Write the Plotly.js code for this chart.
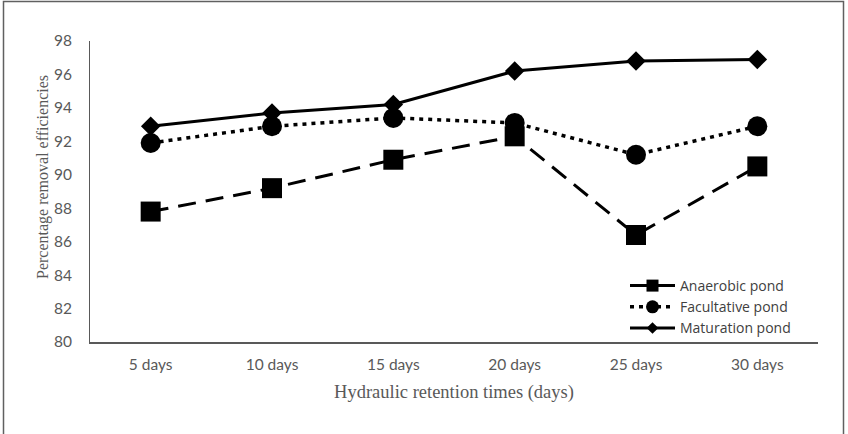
<!DOCTYPE html>
<html>
<head>
<meta charset="utf-8">
<script src="https://cdn.plot.ly/plotly-3.0.1.min.js"></script>
<style>
  html, body { margin: 0; padding: 0; background: #fff; }
  #chart { width: 848px; height: 434px; }
</style>
</head>
<body>
<div id="chart"></div>
<script>
// Hydraulic retention times (x categories)
const retentionTimes = ['5 days', '10 days', '15 days', '20 days', '25 days', '30 days'];

// Percentage removal efficiencies per pond
const anaerobicPond   = [87.8, 89.2, 90.9, 92.3, 86.4, 90.5];
const facultativePond = [91.9, 92.9, 93.4, 93.1, 91.2, 92.9];
const maturationPond  = [92.9, 93.7, 94.2, 96.2, 96.8, 96.9];

const yTicks = [80, 82, 84, 86, 88, 90, 92, 94, 96, 98];

const W = 848, H = 434;
const margin = { l: 90, r: 30, t: 41, b: 92 };
const plotW = W - margin.l - margin.r;
const plotH = H - margin.t - margin.b;
// pixel -> paper helpers for the frame and the side title
const px = x => (x - margin.l) / plotW;
const py = y => (H - margin.b - y) / plotH;

const tickFont = { family: 'Lato, "Open Sans", sans-serif', size: 15.5, color: '#595959' };
const serifFont = { family: '"Liberation Serif", "Times New Roman", serif', color: '#595959' };

const series = [
  { name: 'Anaerobic pond', y: anaerobicPond,
    line: { color: '#000', width: 3, dash: '18px,10px' },
    symbol: 'square', size: 20, legendSize: 12 },
  { name: 'Facultative pond', y: facultativePond,
    line: { color: '#000', width: 3.5, dash: '4px,5px' },
    symbol: 'circle', size: 20, legendSize: 13 },
  { name: 'Maturation pond', y: maturationPond,
    line: { color: '#000', width: 3 },
    symbol: 'diamond', size: 15, legendSize: 9 }
];

const traces = [];
// plotted series
series.forEach(s => traces.push({
  x: retentionTimes, y: s.y, name: s.name,
  type: 'scatter', mode: 'lines+markers', showlegend: false,
  line: s.line,
  marker: { symbol: s.symbol, size: s.size, color: '#000' }
}));
// legend entries with smaller key markers
series.forEach(s => traces.push({
  x: [null], y: [null], name: s.name,
  type: 'scatter', mode: 'lines+markers', showlegend: true,
  line: s.line,
  marker: { symbol: s.symbol, size: s.legendSize, color: '#000' }
}));

const layout = {
  width: W, height: H,
  margin: margin,
  paper_bgcolor: '#fff', plot_bgcolor: '#fff',
  showlegend: true,
  legend: {
    x: px(625), y: py(270), xanchor: 'left', yanchor: 'top',
    bgcolor: 'rgba(0,0,0,0)',
    font: { family: '"Open Sans", Lato, sans-serif', size: 14, color: '#404040' },
    itemwidth: 45, tracegroupgap: 0
  },
  xaxis: {
    type: 'category',
    range: [-0.5, 5.5],
    showline: true, linecolor: '#595959', linewidth: 2,
    showgrid: false, zeroline: false, ticks: '',
    ticklabelstandoff: 7,
    tickfont: tickFont,
    title: {
      text: 'Hydraulic retention times (days)',
      font: Object.assign({ size: 18.5 }, serifFont),
      standoff: 13
    }
  },
  yaxis: {
    range: [80, 98],
    tickvals: yTicks,
    ticktext: yTicks.map(String),
    showline: true, linecolor: '#595959', linewidth: 1,
    showgrid: false, zeroline: false, ticks: '',
    ticklabelstandoff: 14,
    tickfont: tickFont
  },
  annotations: [
    {
      text: 'Percentage removal efficiencies',
      xref: 'paper', yref: 'paper',
      x: px(43), y: py(177), xanchor: 'center', yanchor: 'middle',
      textangle: -90, showarrow: false,
      font: Object.assign({ size: 16 }, serifFont)
    }
  ],
  shapes: [
    {
      type: 'rect', xref: 'paper', yref: 'paper',
      x0: px(3.5), x1: px(843.5), y0: py(1.5), y1: py(445),
      line: { color: '#606060', width: 1.5 },
      fillcolor: 'rgba(0,0,0,0)', layer: 'above'
    }
  ]
};

Plotly.newPlot('chart', traces, layout, { displayModeBar: false, staticPlot: true });
</script>
</body>
</html>
